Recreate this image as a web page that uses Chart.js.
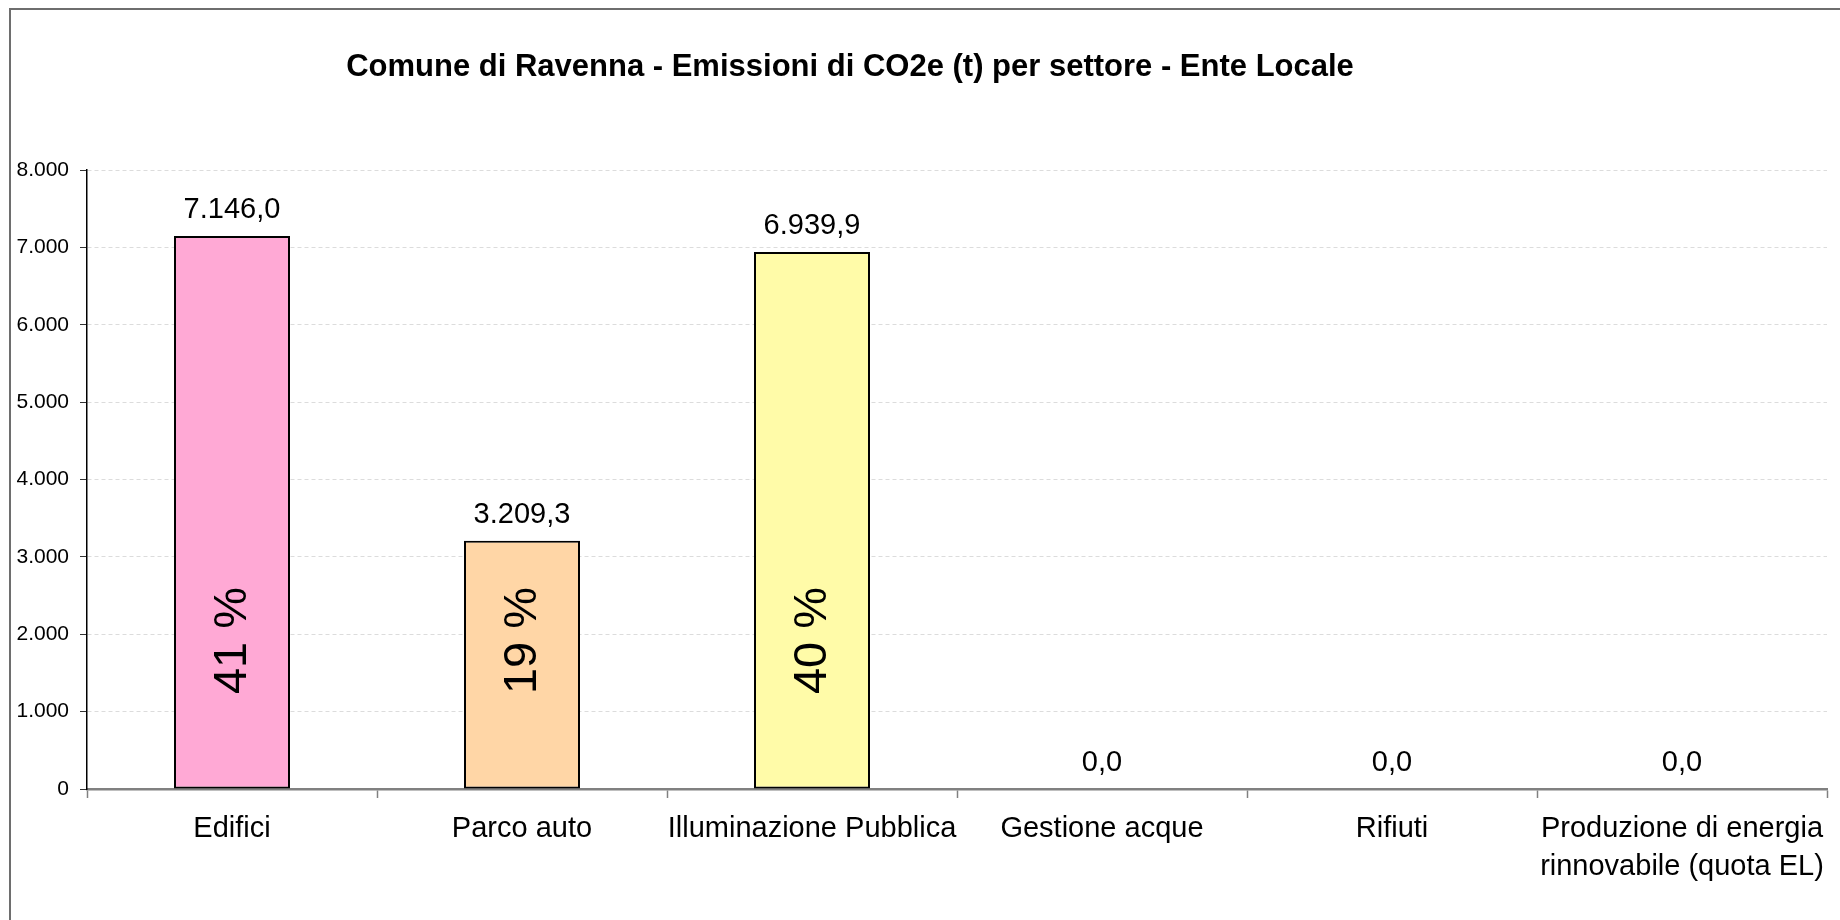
<!DOCTYPE html>
<html>
<head>
<meta charset="utf-8">
<script src="https://cdn.jsdelivr.net/npm/chart.js@4/dist/chart.umd.min.js"></script>
<style>
  html, body { margin: 0; padding: 0; background: #fff; }
  #wrap { width: 1840px; height: 920px; position: relative; }
</style>
</head>
<body>
<div id="wrap"><canvas id="c"></canvas></div>
<script>
const TITLE = 'Comune di Ravenna - Emissioni di CO2e (t) per settore - Ente Locale';
const categories = [
  'Edifici',
  'Parco auto',
  'Illuminazione Pubblica',
  'Gestione acque',
  'Rifiuti',
  ['Produzione di energia', 'rinnovabile (quota EL)']
];
const emissions = [7146.0, 3209.3, 6939.9, 0.0, 0.0, 0.0];
const barColors = ['#FFA9D5', '#FFD6A6', '#FFFBA8', '#FFFFFF', '#FFFFFF', '#FFFFFF'];
const yTicks = [0, 1000, 2000, 3000, 4000, 5000, 6000, 7000, 8000];

const FONT = '"Liberation Sans", Arial, Helvetica, sans-serif';

function fmtIt(v, dec) {
  const s = v.toFixed(dec);
  const parts = s.split('.');
  const intPart = parts[0].replace(/\B(?=(\d{3})+(?!\d))/g, '.');
  return parts.length > 1 ? intPart + ',' + parts[1] : intPart;
}

const total = emissions.reduce((a, b) => a + b, 0);

const framePlugin = {
  id: 'frame',
  beforeDraw(chart) {
    const ctx = chart.ctx;
    ctx.save();
    ctx.fillStyle = '#fff';
    ctx.fillRect(0, 0, chart.width, chart.height);
    ctx.strokeStyle = '#6e6e6e';
    ctx.lineWidth = 2;
    ctx.beginPath();
    ctx.moveTo(10, chart.height);
    ctx.lineTo(10, 9);
    ctx.lineTo(chart.width, 9);
    ctx.stroke();
    ctx.font = 'bold 31px ' + FONT;
    ctx.fillStyle = '#000';
    ctx.textAlign = 'center';
    ctx.textBaseline = 'middle';
    ctx.fillText(TITLE, 850, 67);
    ctx.restore();
  }
};

const labelPlugin = {
  id: 'barLabels',
  afterDatasetsDraw(chart) {
    const ctx = chart.ctx;
    const meta = chart.getDatasetMeta(0);
    const data = chart.data.datasets[0].data;
    ctx.save();
    meta.data.forEach((bar, i) => {
      const v = data[i];
      ctx.fillStyle = '#000';
      ctx.font = '29px ' + FONT;
      ctx.textAlign = 'center';
      ctx.textBaseline = 'alphabetic';
      ctx.fillText(fmtIt(v, 1), bar.x, bar.y - 18);
      if (v > 0) {
        const pct = Math.round(v / total * 100) + ' %';
        ctx.save();
        ctx.translate(bar.x + 1, bar.base - 148);
        ctx.rotate(-Math.PI / 2);
        ctx.font = '47px ' + FONT;
        ctx.textAlign = 'center';
        ctx.textBaseline = 'middle';
        ctx.fillText(pct, 0, 0);
        ctx.restore();
      }
    });
    ctx.restore();
  }
};

new Chart(document.getElementById('c'), {
  type: 'bar',
  data: {
    labels: categories,
    datasets: [{
      data: emissions,
      backgroundColor: barColors,
      borderColor: '#000',
      borderWidth: 2,
      borderSkipped: false,
      categoryPercentage: 0.8,
      barPercentage: 0.5
    }]
  },
  options: {
    responsive: true,
    maintainAspectRatio: false,
    animation: false,
    events: [],
    layout: { padding: { top: 170, right: 13, left: 0, bottom: 0 } },
    plugins: {
      legend: { display: false },
      tooltip: { enabled: false },
      title: { display: false }
    },
    scales: {
      x: {
        type: 'category',
        afterFit(scale) { scale.height = 131; },
        grid: {
          offset: true,
          drawOnChartArea: false,
          drawTicks: true,
          tickLength: 9,
          tickColor: '#808080',
          tickWidth: 1.5
        },
        border: { display: true, color: '#808080', width: 2.5 },
        ticks: {
          color: '#000',
          font: { family: FONT, size: 29, lineHeight: 1.32 },
          padding: 12,
          maxRotation: 0,
          minRotation: 0,
          autoSkip: false
        }
      },
      y: {
        min: 0,
        max: 8000,
        afterFit(scale) { scale.width = 87; },
        afterBuildTicks(scale) { scale.ticks = yTicks.map(v => ({ value: v })); },
        grid: {
          color: '#dcdcdc',
          lineWidth: 1,
          drawTicks: true,
          tickLength: 7,
          tickColor: '#333',
          tickBorderDash: []
        },
        border: { display: true, color: '#000', width: 1.5, dash: [4, 3] },
        ticks: {
          color: '#000',
          font: { family: FONT, size: 21 },
          padding: 11,
          callback: (v) => fmtIt(Number(v), 0)
        }
      }
    }
  },
  plugins: [framePlugin, labelPlugin]
});
</script>
</body>
</html>
